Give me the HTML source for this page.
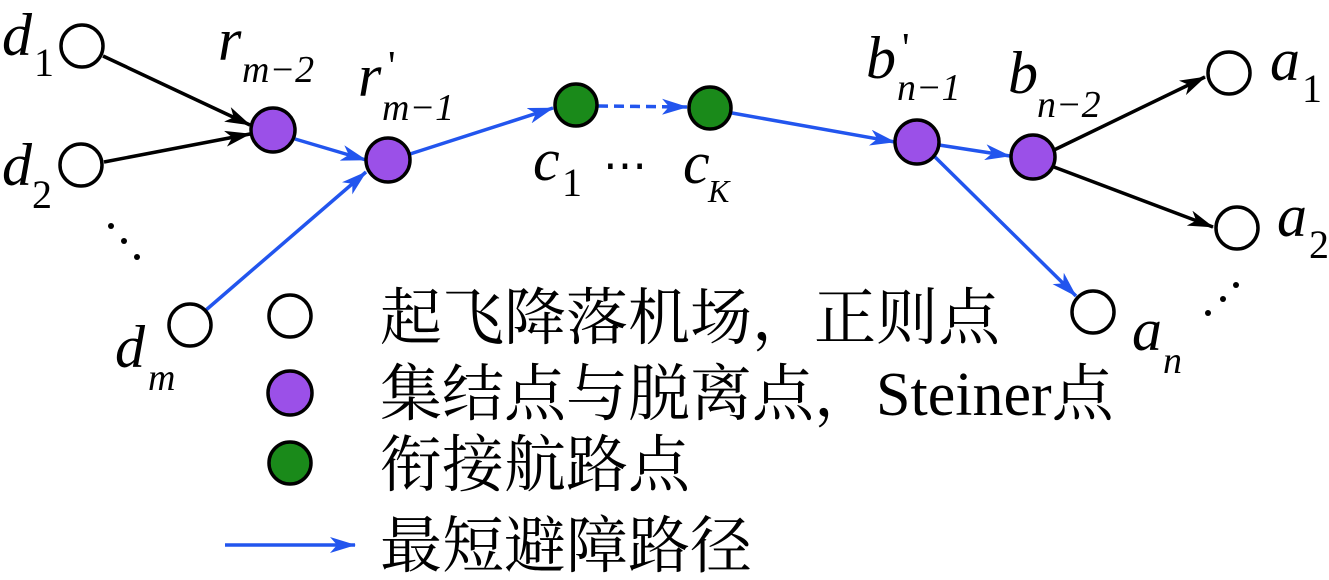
<!DOCTYPE html>
<html><head><meta charset="utf-8"><style>
html,body{margin:0;padding:0;background:#fff}
svg{display:block}
.l{font-family:"Liberation Serif","Times New Roman","DejaVu Serif",serif;font-style:italic;fill:#000}
.s{font-family:"Liberation Serif","Times New Roman","DejaVu Serif",serif;fill:#000}
.c{font-family:"Liberation Serif","Noto Serif CJK SC","DejaVu Serif",serif;font-size:62px;fill:#000}
</style></head><body>
<svg width="1329" height="580" viewBox="0 0 1329 580">
<defs>
<marker id="ab" markerWidth="26" markerHeight="16" refX="25" refY="8" orient="auto" markerUnits="userSpaceOnUse" viewBox="0 0 26 16"><path d="M0,0 L26,8 L0,16 L7,8z" fill="#000"/></marker>
<marker id="bb" markerWidth="26" markerHeight="16" refX="25" refY="8" orient="auto" markerUnits="userSpaceOnUse" viewBox="0 0 26 16"><path d="M0,0 L26,8 L0,16 L7,8z" fill="#2255ee"/></marker>
</defs>
<g stroke-width="3.5" fill="none">
<line x1="103" y1="56" x2="250" y2="125" stroke="#000" marker-end="url(#ab)"/>
<line x1="104" y1="162" x2="250" y2="134" stroke="#000" marker-end="url(#ab)"/>
<line x1="1054" y1="150" x2="1205" y2="77" stroke="#000" marker-end="url(#ab)"/>
<line x1="1054" y1="167" x2="1213" y2="227" stroke="#000" marker-end="url(#ab)"/>
<line x1="295" y1="139" x2="366" y2="160" stroke="#2255ee" marker-end="url(#bb)"/>
<line x1="206" y1="310" x2="366" y2="172" stroke="#2255ee" marker-end="url(#bb)"/>
<line x1="410" y1="154" x2="553" y2="108" stroke="#2255ee" marker-end="url(#bb)"/>
<line x1="598" y1="106" x2="687" y2="107" stroke="#2255ee" stroke-dasharray="10,6" marker-end="url(#bb)"/>
<line x1="732" y1="113" x2="895" y2="142" stroke="#2255ee" marker-end="url(#bb)"/>
<line x1="939" y1="145" x2="1010" y2="156" stroke="#2255ee" marker-end="url(#bb)"/>
<line x1="935" y1="157" x2="1076" y2="296" stroke="#2255ee" marker-end="url(#bb)"/>
<line x1="225" y1="545" x2="355" y2="545" stroke="#2255ee" marker-end="url(#bb)"/>
</g>
<g stroke="#000" stroke-width="3.5">
<circle cx="82" cy="46" r="21" fill="#fff"/>
<circle cx="81" cy="165" r="21" fill="#fff"/>
<circle cx="190" cy="325" r="21" fill="#fff"/>
<circle cx="273" cy="130" r="22" fill="#9b50e8"/>
<circle cx="388" cy="160" r="22" fill="#9b50e8"/>
<circle cx="576" cy="105" r="21" fill="#1a8a1a"/>
<circle cx="710" cy="108" r="21" fill="#1a8a1a"/>
<circle cx="917" cy="142" r="22" fill="#9b50e8"/>
<circle cx="1033" cy="157" r="22" fill="#9b50e8"/>
<circle cx="1229" cy="73" r="21" fill="#fff"/>
<circle cx="1237" cy="228" r="21" fill="#fff"/>
<circle cx="1093" cy="312" r="21" fill="#fff"/>
<circle cx="290" cy="316" r="21" fill="#fff"/>
<circle cx="290" cy="393" r="22" fill="#9b50e8"/>
<circle cx="290" cy="463" r="21" fill="#1a8a1a"/>
</g>
<g fill="#000">
<circle cx="111" cy="226" r="3"/><circle cx="124" cy="241" r="3"/><circle cx="137" cy="257" r="3"/>
<circle cx="1208" cy="313" r="3"/><circle cx="1223" cy="299" r="3"/><circle cx="1236" cy="285" r="3"/>
</g>
<text class="l" x="2" y="55" font-size="60">d</text><text class="s" x="34" y="76" font-size="40">1</text>
<text class="l" x="2" y="185" font-size="60">d</text><text class="s" x="32" y="208" font-size="40">2</text>
<text class="l" x="115" y="367" font-size="60">d</text><text class="l" x="148" y="390" font-size="38">m</text>
<text class="l" x="218" y="60" font-size="60">r</text><text class="l" x="242" y="82" font-size="38">m−2</text>
<text class="l" x="358" y="96" font-size="60">r</text><text class="s" x="388" y="80" font-size="42">'</text><text class="l" x="382" y="120" font-size="38">m−1</text>
<text class="l" x="533" y="180" font-size="60">c</text><text class="s" x="562" y="196" font-size="40">1</text>
<text class="s" x="603" y="180" font-size="44">⋯</text>
<text class="l" x="683" y="183" font-size="60">c</text><text class="l" x="708" y="202" font-size="32">K</text>
<text class="l" x="866" y="78" font-size="60">b</text><text class="s" x="902" y="62" font-size="42">'</text><text class="l" x="897" y="100" font-size="38">n−1</text>
<text class="l" x="1008" y="93" font-size="60">b</text><text class="l" x="1037" y="117" font-size="38">n−2</text>
<text class="l" x="1270" y="80" font-size="60">a</text><text class="s" x="1302" y="102" font-size="40">1</text>
<text class="l" x="1277" y="236" font-size="60">a</text><text class="s" x="1309" y="258" font-size="40">2</text>
<text class="l" x="1132" y="350" font-size="60">a</text><text class="l" x="1163" y="373" font-size="38">n</text>
<text class="c" x="380" y="339">起飞降落机场，正则点</text>
<text class="c" x="380" y="415">集结点与脱离点，Steiner点</text>
<text class="c" x="380" y="486">衔接航路点</text>
<text class="c" x="380" y="567">最短避障路径</text>
</svg>
</body></html>
